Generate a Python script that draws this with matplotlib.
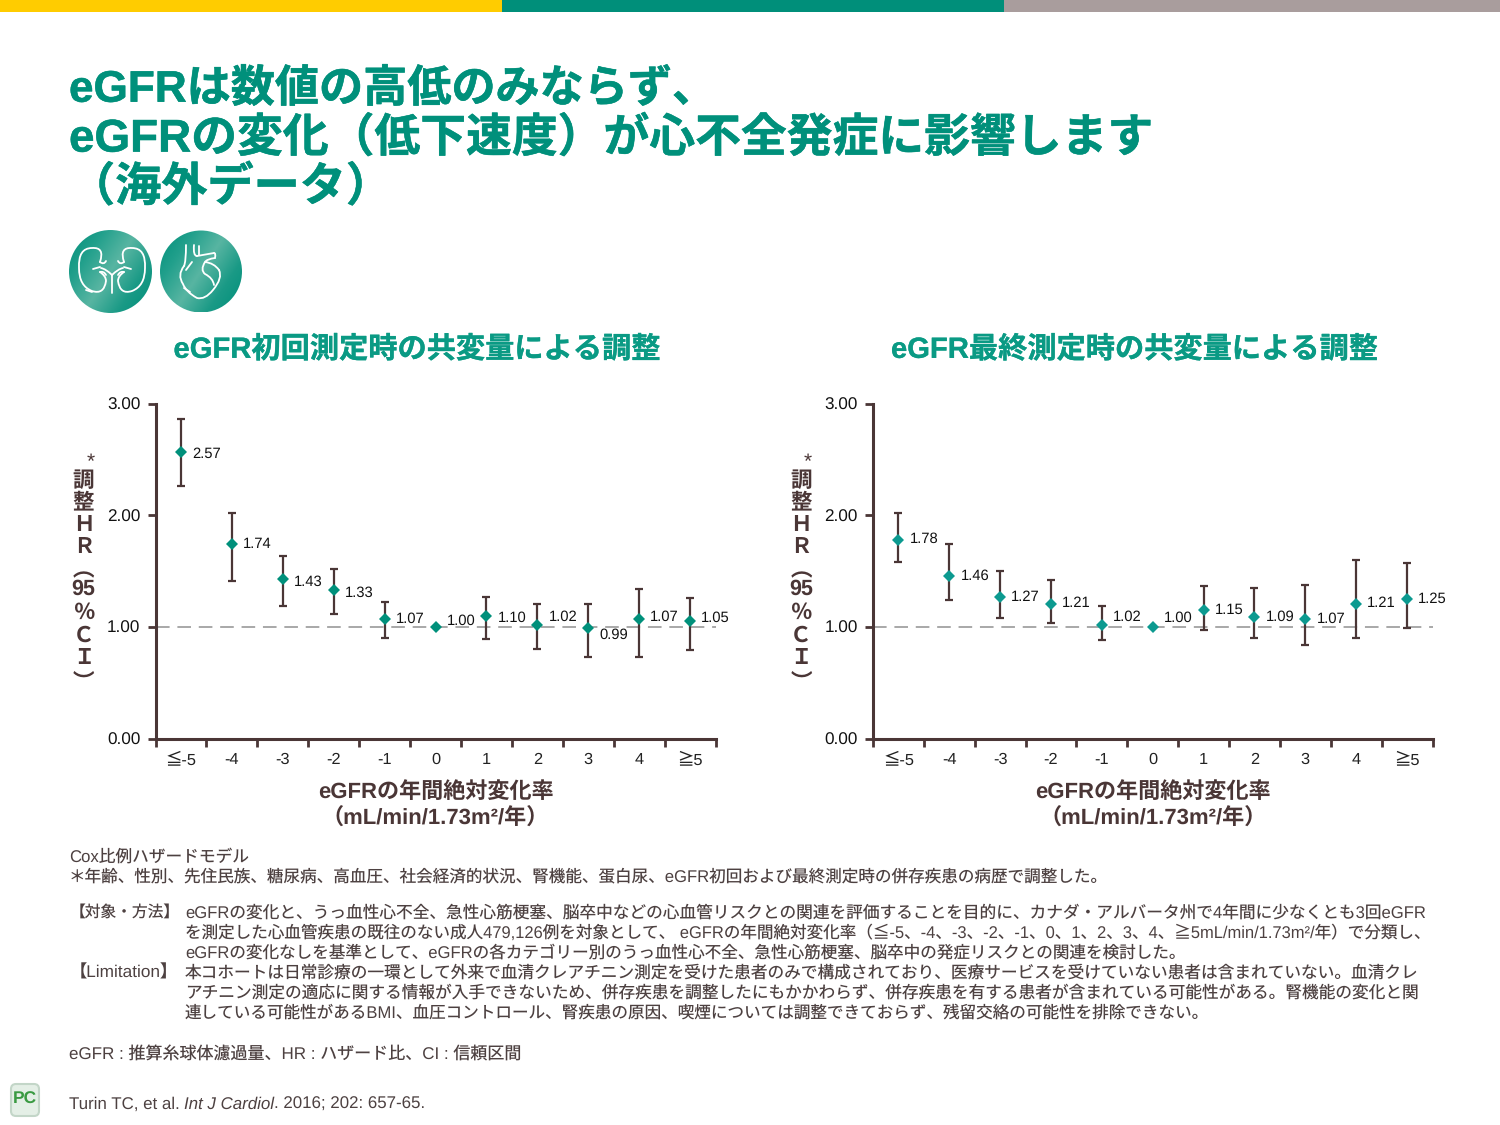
import matplotlib
matplotlib.use("Agg")
import matplotlib.pyplot as plt
from matplotlib.colors import LinearSegmentedColormap
from matplotlib.patches import Circle, FancyBboxPatch, Rectangle
from matplotlib.path import Path
from matplotlib.patches import PathPatch
import matplotlib.patheffects as pe
import numpy as np

plt.rcParams['font.family'] = ['Liberation Sans', 'Noto Sans CJK JP']
plt.rcParams['text.hinting'] = 'none'

# data
categories = ['≦-5', '-4', '-3', '-2', '-1', '0', '1', '2', '3', '4', '≧5']
yticks = [0, 1, 2, 3]

hr_first = [2.57, 1.74, 1.43, 1.33, 1.07, 1.00, 1.10, 1.02, 0.99, 1.07, 1.05]
low_first = [2.26, 1.41, 1.19, 1.12, 0.90, 1.00, 0.89, 0.80, 0.73, 0.73, 0.79]
high_first = [2.86, 2.02, 1.64, 1.52, 1.22, 1.00, 1.27, 1.21, 1.21, 1.34, 1.26]

hr_last = [1.78, 1.46, 1.27, 1.21, 1.02, 1.00, 1.15, 1.09, 1.07, 1.21, 1.25]
low_last = [1.58, 1.24, 1.08, 1.04, 0.88, 1.00, 0.97, 0.90, 0.84, 0.90, 0.99]
high_last = [2.02, 1.74, 1.50, 1.42, 1.19, 1.00, 1.37, 1.35, 1.38, 1.60, 1.57]

title_lines = ['eGFRは数値の高低のみならず、',
               'eGFRの変化（低下速度）が心不全発症に影響します',
               '（海外データ）']
panel_titles = ['eGFR初回測定時の共変量による調整', 'eGFR最終測定時の共変量による調整']
xlabel_lines = ['eGFRの年間絶対変化率', '（mL/min/1.73m²/年）']
ylabel_parts = ['調', '整', 'Ｈ', 'Ｒ', '︵', '95', '％', 'Ｃ', 'Ｉ', '︶']

TEAL = '#00907b'
BROWN = '#4a3636'
TEXT = '#4d4141'
W, H = 1500, 1125

fig = plt.figure(figsize=(15, 11.25), dpi=100, facecolor='w')
# page axes in pixel coords, for everything that is not a chart
page = fig.add_axes([0, 0, 1, 1], zorder=0)
page.set_xlim(0, W)
page.set_ylim(H, 0)
page.axis('off')


def fit_text(x, y, s, right=None, size=12, **kw):
    kw.setdefault('color', TEXT)
    t = page.text(x, y, s, va='center', fontsize=size, **kw)
    if right is not None:
        for _ in range(2):
            w = t.get_window_extent(fig.canvas.get_renderer()).width
            t.set_fontsize(t.get_fontsize() * (right - x) / w)
    return t


# colour strip at the top
page.add_patch(Rectangle((0, 0), 502, 12, color='#ffcc00', lw=0))
page.add_patch(Rectangle((502, 0), 502, 12, color='#008f7a', lw=0))
page.add_patch(Rectangle((1004, 0), 496, 12, color='#a99d9d', lw=0))

# main title
stroke = [pe.withStroke(linewidth=0.4, foreground=TEAL)]
for s, y, right in zip(title_lines, [90, 139, 188], [716, 1153, 392]):
    fit_text(69, y, s, right=right, size=34, color=TEAL, weight='bold', path_effects=stroke)

# round icons
cmap = LinearSegmentedColormap.from_list('icon', ['#008f7a', '#22a08c', '#58b5a2', '#1a9a86', '#008f7a'])
gx, gy = np.meshgrid(np.linspace(0, 1, 90), np.linspace(0, 1, 90))
grad = (gx * 0.6 + gy * 0.4)
for cx, cy, r in [(110.5, 271.5, 41.5), (201, 271.5, 41)]:
    im = page.imshow(grad, cmap=cmap, extent=(cx - r, cx + r, cy + r, cy - r), aspect='auto', zorder=1)
    im.set_clip_path(Circle((cx, cy), r, transform=page.transData))
page.set_xlim(0, W)
page.set_ylim(H, 0)


def icon_line(points):
    # points are smooth-curve control points in icon pixels
    codes = [Path.MOVETO] + [Path.CURVE3] * (len(points) - 1)
    if len(points) % 2 == 0:
        codes = [Path.MOVETO] + [Path.LINETO] * (len(points) - 1)
    page.add_patch(PathPatch(Path(points, codes), fc='none', ec='w', lw=1.3, zorder=2, capstyle='round'))


# kidneys, drawn left side and mirrored round x=112
for m in [1, -1]:
    mx = lambda x: 112 + m * (x - 112)
    icon_line([(mx(100), 262), (mx(105), 247), (mx(92), 248), (mx(78), 248), (mx(79), 268),
               (mx(79), 286), (mx(92), 291), (mx(104), 295), (mx(106), 281), (mx(106), 276), (mx(100), 272)])
    icon_line([(mx(112), 275), (mx(106), 269), (mx(101), 268)])
    icon_line([(mx(93), 269), (mx(100), 267)])
    icon_line([(mx(100), 262), (mx(104), 265), (mx(106), 261)])
    icon_line([(mx(100), 272), (mx(104), 271), (mx(106), 275)])
icon_line([(112, 275), (112, 293)])
icon_line([(86, 290), (92, 292)])

# heart
icon_line([(186, 245), (186, 262), (184, 266)])
icon_line([(194, 245), (193, 256), (197, 256)])
icon_line([(197, 256), (214, 253)])
icon_line([(214, 253), (216, 253), (215, 258)])
icon_line([(215, 258), (207, 259), (205, 262), (214, 263), (219, 270)])
icon_line([(219, 270), (223, 278), (213, 290), (205, 300), (197, 298), (186, 292), (183, 284), (177, 275), (184, 266)])
icon_line([(205, 262), (200, 270), (205, 274), (213, 278), (214, 285)])
icon_line([(199, 246), (199, 255)])
icon_line([(186, 270), (192, 262)])
icon_line([(184, 288), (190, 292)])

# panel titles
for s, cx in zip(panel_titles, [417, 1134.5]):
    t = page.text(cx, 350, s, ha='center', va='center', color='#0a9a84', weight='bold', fontsize=20,
                  path_effects=[pe.withStroke(linewidth=0.2, foreground='#0a9a84')])
    w = t.get_window_extent(fig.canvas.get_renderer()).width
    t.set_fontsize(20 * 487 / w)


def draw_panel(left, right, hr, low, high, color, label_shift):
    ax = fig.add_axes([left / W, 1 - 738.7 / H, (right - left) / W, 335 / H], zorder=2)
    ax.patch.set_alpha(0)
    x = np.arange(len(categories))
    ax.axhline(1, color='#a8a8a8', lw=1.4, dashes=(7, 4), zorder=1)
    err = [np.array(hr) - np.array(low), np.array(high) - np.array(hr)]
    ax.errorbar(x, hr, yerr=err, fmt='none', ecolor=BROWN, elinewidth=1.6, capsize=3.2, capthick=1.6, zorder=2)
    ax.plot(x, hr, 'D', color=color, ms=6.4, mew=0, zorder=3)
    for i, v in enumerate(hr):
        ax.annotate(f'{v:.2f}', (x[i], v), xytext=(8, -label_shift[i] * 0.72), textcoords='offset points',
                    va='center', fontsize=10.6, color='#111111')
    ax.set_xlim(-0.5, len(categories) - 0.5)
    ax.set_ylim(0, 3)
    for side in ['top', 'right']:
        ax.spines[side].set_visible(False)
    for side in ['left', 'bottom']:
        ax.spines[side].set_linewidth(2.2)
        ax.spines[side].set_color(BROWN)
    ax.set_yticks(yticks)
    ax.set_yticklabels([f'{v:.2f}' for v in yticks], fontsize=12.3, color='#111111')
    ax.tick_params(axis='y', length=5.5, width=2, color=BROWN, pad=5.5)
    ax.set_xticks(np.arange(-0.5, len(categories)))
    ax.set_xticklabels([])
    ax.tick_params(axis='x', which='major', length=5.5, width=2, color=BROWN)
    ax.set_xticks(x, minor=True)
    ax.set_xticklabels(categories, minor=True, fontsize=11.8, color='#222222')
    ax.tick_params(axis='x', which='minor', length=0, pad=10)

    # stacked y label and x label
    cx = (left + right) / 2
    yl = left - 72
    page.text(yl + 7, 463, '*', ha='center', va='center', fontsize=15, color=BROWN)
    for s, y in zip(ylabel_parts, [481, 503, 525, 547, 571, 589, 613, 636, 658, 683]):
        page.text(yl, y, s, ha='center', va='center', fontsize=15.5, color=BROWN, weight='bold')
    page.text(cx, 792, xlabel_lines[0], ha='center', va='center', fontsize=15.9, color=BROWN, weight='bold')
    page.text(cx, 819, xlabel_lines[1], ha='center', va='center', fontsize=15.9, color=BROWN, weight='bold')


draw_panel(155.5, 715.5, hr_first, low_first, high_first, '#00907b', [2, 0, 3, 3, 0, -6, 2, -8, 7, -2, -3])
draw_panel(873, 1432.5, hr_last, low_last, high_last, '#0c9a90', [-1, 0, 0, 0, -8, -9, 0, 0, 0, 0, 0])

# foot notes
fit_text(69, 857, 'Cox比例ハザードモデル', right=249)
fit_text(69, 877, '＊年齢、性別、先住民族、糖尿病、高血圧、社会経済的状況、腎機能、蛋白尿、eGFR初回および最終測定時の併存疾患の病歴で調整した。', right=1108)
fit_text(70, 913, '【対象・方法】', right=180)
fit_text(185, 913, 'eGFRの変化と、うっ血性心不全、急性心筋梗塞、脳卒中などの心血管リスクとの関連を評価することを目的に、カナダ・アルバータ州で4年間に少なくとも3回eGFR', right=1425)
fit_text(185, 933, 'を測定した心血管疾患の既往のない成人479,126例を対象として、 eGFRの年間絶対変化率（≦-5、-4、-3、-2、-1、0、1、2、3、4、≧5mL/min/1.73m²/年）で分類し、', right=1433)
fit_text(185, 953, 'eGFRの変化なしを基準として、eGFRの各カテゴリー別のうっ血性心不全、急性心筋梗塞、脳卒中の発症リスクとの関連を検討した。', right=1186)
fit_text(70, 973, '【Limitation】', right=178)
fit_text(185, 973, '本コホートは日常診療の一環として外来で血清クレアチニン測定を受けた患者のみで構成されており、医療サービスを受けていない患者は含まれていない。血清クレ', right=1418)
fit_text(185, 993, 'アチニン測定の適応に関する情報が入手できないため、併存疾患を調整したにもかかわらず、併存疾患を有する患者が含まれている可能性がある。腎機能の変化と関', right=1418)
fit_text(185, 1013, '連している可能性があるBMI、血圧コントロール、腎疾患の原因、喫煙については調整できておらず、残留交絡の可能性を排除できない。', right=1210)
fit_text(69, 1055, 'eGFR : 推算糸球体濾過量、HR : ハザード比、CI : 信頼区間', right=521)

# citation, italic part in the middle
r = fig.canvas.get_renderer()
xpos = 69
for s, style in [('Turin TC, et al. ', 'normal'), ('Int J Cardiol', 'italic'), ('. 2016; 202: 657-65.', 'normal')]:
    t = fit_text(xpos, 1104, s, size=12.2, style=style)
    xpos += t.get_window_extent(r).width

# logo
page.add_patch(FancyBboxPatch((11, 1084), 28, 32, boxstyle='round,pad=0,rounding_size=5', fc='#e4efe6', ec='#c3d6c8', lw=1.5))
page.text(25, 1099, 'PC', ha='center', va='center', fontsize=12.5, color='#3a9a42', weight='bold')

plt.savefig('out.png', dpi=100, facecolor='w', edgecolor='w')
